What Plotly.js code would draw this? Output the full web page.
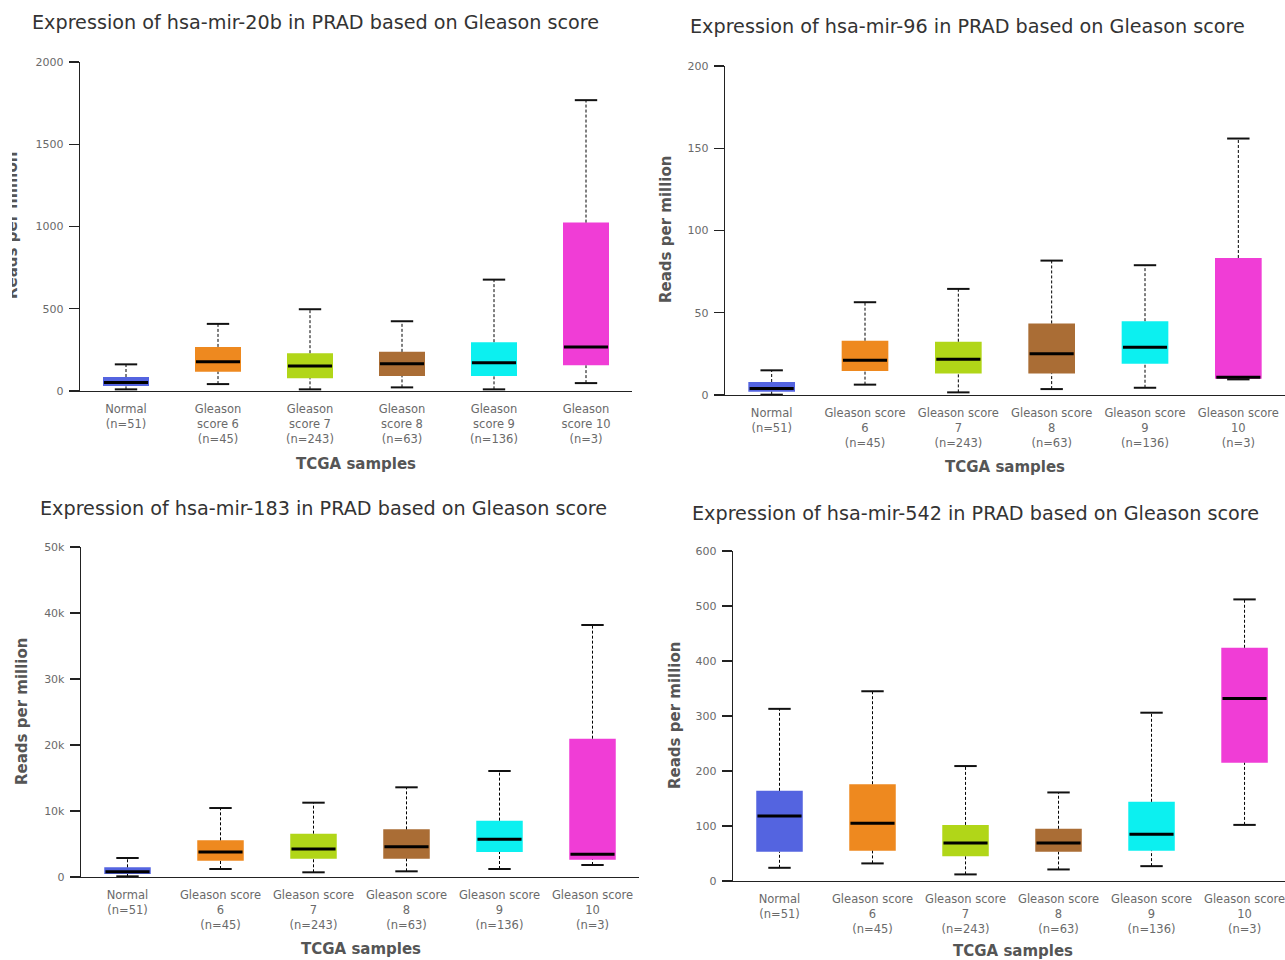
<!DOCTYPE html>
<html>
<head>
<meta charset="utf-8">
<script src="https://cdn.plot.ly/plotly-3.0.1.min.js"></script>
<style>html,body{margin:0;padding:0;background:#fff;}#chart{width:1285px;height:960px;}</style>
</head>
<body>
<div id="chart"></div>
<script>
// ---- Data ----
const boxColors = ['#5464E0', '#EE891F', '#B1D618', '#AA6D35', '#0CF0F0', '#F03DD6'];
const catsPanel1 = ['Normal<br>(n=51)', 'Gleason<br>score 6<br>(n=45)', 'Gleason<br>score 7<br>(n=243)', 'Gleason<br>score 8<br>(n=63)', 'Gleason<br>score 9<br>(n=136)', 'Gleason<br>score 10<br>(n=3)'];
const catsOther = ['Normal<br>(n=51)', 'Gleason score<br>6<br>(n=45)', 'Gleason score<br>7<br>(n=243)', 'Gleason score<br>8<br>(n=63)', 'Gleason score<br>9<br>(n=136)', 'Gleason score<br>10<br>(n=3)'];

// hsa-mir-20b
const mir20b_upper  = [162, 408, 497, 424, 677, 1768];
const mir20b_q3     = [85, 268, 230, 238, 297, 1024];
const mir20b_median = [52, 178, 152, 166, 172, 268];
const mir20b_q1     = [30, 117, 77, 91, 91, 156];
const mir20b_lower  = [10, 42, 10, 22, 10, 48];

// hsa-mir-96
const mir96_upper  = [15.0, 56.4, 64.5, 81.7, 78.9, 155.9];
const mir96_q3     = [7.9, 33.0, 32.4, 43.5, 44.9, 83.3];
const mir96_median = [4.0, 21.2, 21.8, 25.1, 29.1, 10.8];
const mir96_q1     = [2.0, 14.6, 13.1, 13.1, 19.0, 9.9];
const mir96_lower  = [0.2, 6.3, 1.6, 3.6, 4.4, 9.5];

// hsa-mir-183
const mir183_upper  = [2880, 10450, 11260, 13590, 16060, 38180];
const mir183_q3     = [1470, 5560, 6570, 7220, 8540, 20960];
const mir183_median = [810, 3790, 4240, 4600, 5710, 3430];
const mir183_q1     = [460, 2480, 2780, 2780, 3790, 2630];
const mir183_lower  = [100, 1210, 710, 860, 1210, 1820];

// hsa-mir-542
const mir542_upper  = [313, 345, 209, 161, 306, 512];
const mir542_q3     = [164, 176, 102, 95, 144, 424];
const mir542_median = [118, 105, 69, 69, 85, 332];
const mir542_q1     = [53, 55, 45, 53, 55, 215];
const mir542_lower  = [24, 32, 12, 21, 27, 102];

const titles = [
  'Expression of hsa-mir-20b in PRAD based on Gleason score',
  'Expression of hsa-mir-96 in PRAD based on Gleason score',
  'Expression of hsa-mir-183 in PRAD based on Gleason score',
  'Expression of hsa-mir-542 in PRAD based on Gleason score'
];
const yTitle = 'Reads per million';
const xTitle = 'TCGA samples';

const tick20b = [0, 500, 1000, 1500, 2000];
const tick96 = [0, 50, 100, 150, 200];
const tick183 = [0, 10000, 20000, 30000, 40000, 50000];
const tick183Text = ['0', '10k', '20k', '30k', '40k', '50k'];
const tick542 = [0, 100, 200, 300, 400, 500, 600];

// ---- Build ----
const W = 1285, H = 960;
const FONT = 'DejaVu Sans, Verdana, sans-serif';
const panels = [
  {d: [mir20b_upper, mir20b_q3, mir20b_median, mir20b_q1, mir20b_lower], cats: catsPanel1,
   px: [80, 632], py: [62, 391], xr: [-0.5, 5.5], yr: [0, 2000], tv: tick20b, tt: tick20b.map(String),
   title: [30, 22], ytl: [12, 226], xtl: [356, 464]},
  {d: [mir96_upper, mir96_q3, mir96_median, mir96_q1, mir96_lower], cats: catsOther,
   px: [725, 1285], py: [66, 395], xr: [-0.5, 5.5], yr: [0, 200], tv: tick96, tt: tick96.map(String),
   title: [688, 27], ytl: [666, 230], xtl: [1005, 467]},
  {d: [mir183_upper, mir183_q3, mir183_median, mir183_q1, mir183_lower], cats: catsOther,
   px: [81, 639], py: [547, 877], xr: [-0.5, 5.5], yr: [0, 50000], tv: tick183, tt: tick183Text,
   title: [38, 509], ytl: [22, 712], xtl: [361, 949]},
  {d: [mir542_upper, mir542_q3, mir542_median, mir542_q1, mir542_lower], cats: catsOther,
   px: [733, 1285], py: [551, 881], xr: [-0.5, 5.435], yr: [0, 600], tv: tick542, tt: tick542.map(String),
   title: [690, 513], ytl: [675, 716], xtl: [1013, 951]}
];

const traces = [];
const layout = {
  width: W, height: H, margin: {l: 0, r: 0, t: 0, b: 0},
  paper_bgcolor: '#fff', plot_bgcolor: '#fff', showlegend: false,
  annotations: [], shapes: []
};

panels.forEach((p, k) => {
  const n = k + 1;
  const xa = 'x' + (n === 1 ? '' : n), ya = 'y' + (n === 1 ? '' : n);
  const [upper, q3, med, q1, lower] = p.d;
  const idx = upper.map((_, i) => i);
  // boxes
  traces.push({type: 'bar', x: idx, y: q3.map((v, i) => v - q1[i]), base: q1, width: 0.5,
    marker: {color: boxColors, line: {width: 0}}, xaxis: xa, yaxis: ya, hoverinfo: 'skip'});
  // whiskers (dashed)
  const wx = [], wy = [];
  idx.forEach(i => { wx.push(i, i, null, i, i, null); wy.push(q3[i], upper[i], null, lower[i], q1[i], null); });
  traces.push({type: 'scatter', mode: 'lines', x: wx, y: wy, line: {color: '#000', width: 1, dash: '3px,2px'},
    xaxis: xa, yaxis: ya, hoverinfo: 'skip', connectgaps: false});
  // caps (line-ew length = 1.4 * size)
  traces.push({type: 'scatter', mode: 'markers', x: idx.concat(idx), y: upper.concat(lower),
    marker: {symbol: 'line-ew', size: 16, color: '#000', line: {color: '#111', width: 2}},
    xaxis: xa, yaxis: ya, hoverinfo: 'skip', cliponaxis: false});
  // medians
  traces.push({type: 'scatter', mode: 'markers', x: idx, y: med,
    marker: {symbol: 'line-ew', size: 31.5, color: '#000', line: {color: '#000', width: 3}},
    xaxis: xa, yaxis: ya, hoverinfo: 'skip', cliponaxis: false});

  const xKey = 'xaxis' + (n === 1 ? '' : n), yKey = 'yaxis' + (n === 1 ? '' : n);
  layout[xKey] = {
    domain: [p.px[0] / W, p.px[1] / W], anchor: ya, range: p.xr, fixedrange: true,
    tickmode: 'array', tickvals: idx, ticktext: p.cats, ticks: '', showgrid: false, zeroline: false,
    showline: true, linecolor: '#222', linewidth: 1.3, ticklabelstandoff: 7, ticklabeloverflow: 'allow',
    tickfont: {family: FONT, size: 11.5, color: '#6a6a6a'}
  };
  layout[yKey] = {
    domain: [1 - p.py[1] / H, 1 - p.py[0] / H], anchor: xa, range: p.yr, fixedrange: true,
    tickmode: 'array', tickvals: p.tv, ticktext: p.tt, ticks: 'outside', ticklen: 10, tickcolor: '#222', tickwidth: 1.3,
    showgrid: false, zeroline: false, showline: true, linecolor: '#222', linewidth: 1.3, ticklabelstandoff: 3,
    tickfont: {family: FONT, size: 11, color: '#6a6a6a'}
  };
  // chart title
  layout.annotations.push({text: titles[k], xref: 'paper', yref: 'paper', x: p.title[0] / W, y: 1 - p.title[1] / H,
    xanchor: 'left', yanchor: 'middle', showarrow: false, font: {family: FONT, size: 19.2, color: '#333'}});
  // y title
  layout.annotations.push({text: '<b>' + yTitle + '</b>', xref: 'paper', yref: 'paper', x: p.ytl[0] / W, y: 1 - p.ytl[1] / H,
    xanchor: 'center', yanchor: 'middle', textangle: -90, showarrow: false, font: {family: FONT, size: 15, color: '#555'}});
  // x title
  layout.annotations.push({text: '<b>' + xTitle + '</b>', xref: 'paper', yref: 'paper', x: p.xtl[0] / W, y: 1 - p.xtl[1] / H,
    xanchor: 'center', yanchor: 'middle', showarrow: false, font: {family: FONT, size: 15, color: '#555'}});
});

// the first panel's y title is clipped at its left side in the original
layout.annotations.push({text: ' ', xref: 'paper', yref: 'paper', x: 0, y: 1 - 226 / H, xanchor: 'left', yanchor: 'middle',
  width: 12, height: 170, bgcolor: '#fff', showarrow: false, borderpad: 0, borderwidth: 0, font: {size: 10}});

Plotly.newPlot('chart', traces, layout, {staticPlot: true, displayModeBar: false});
</script>
</body>
</html>
